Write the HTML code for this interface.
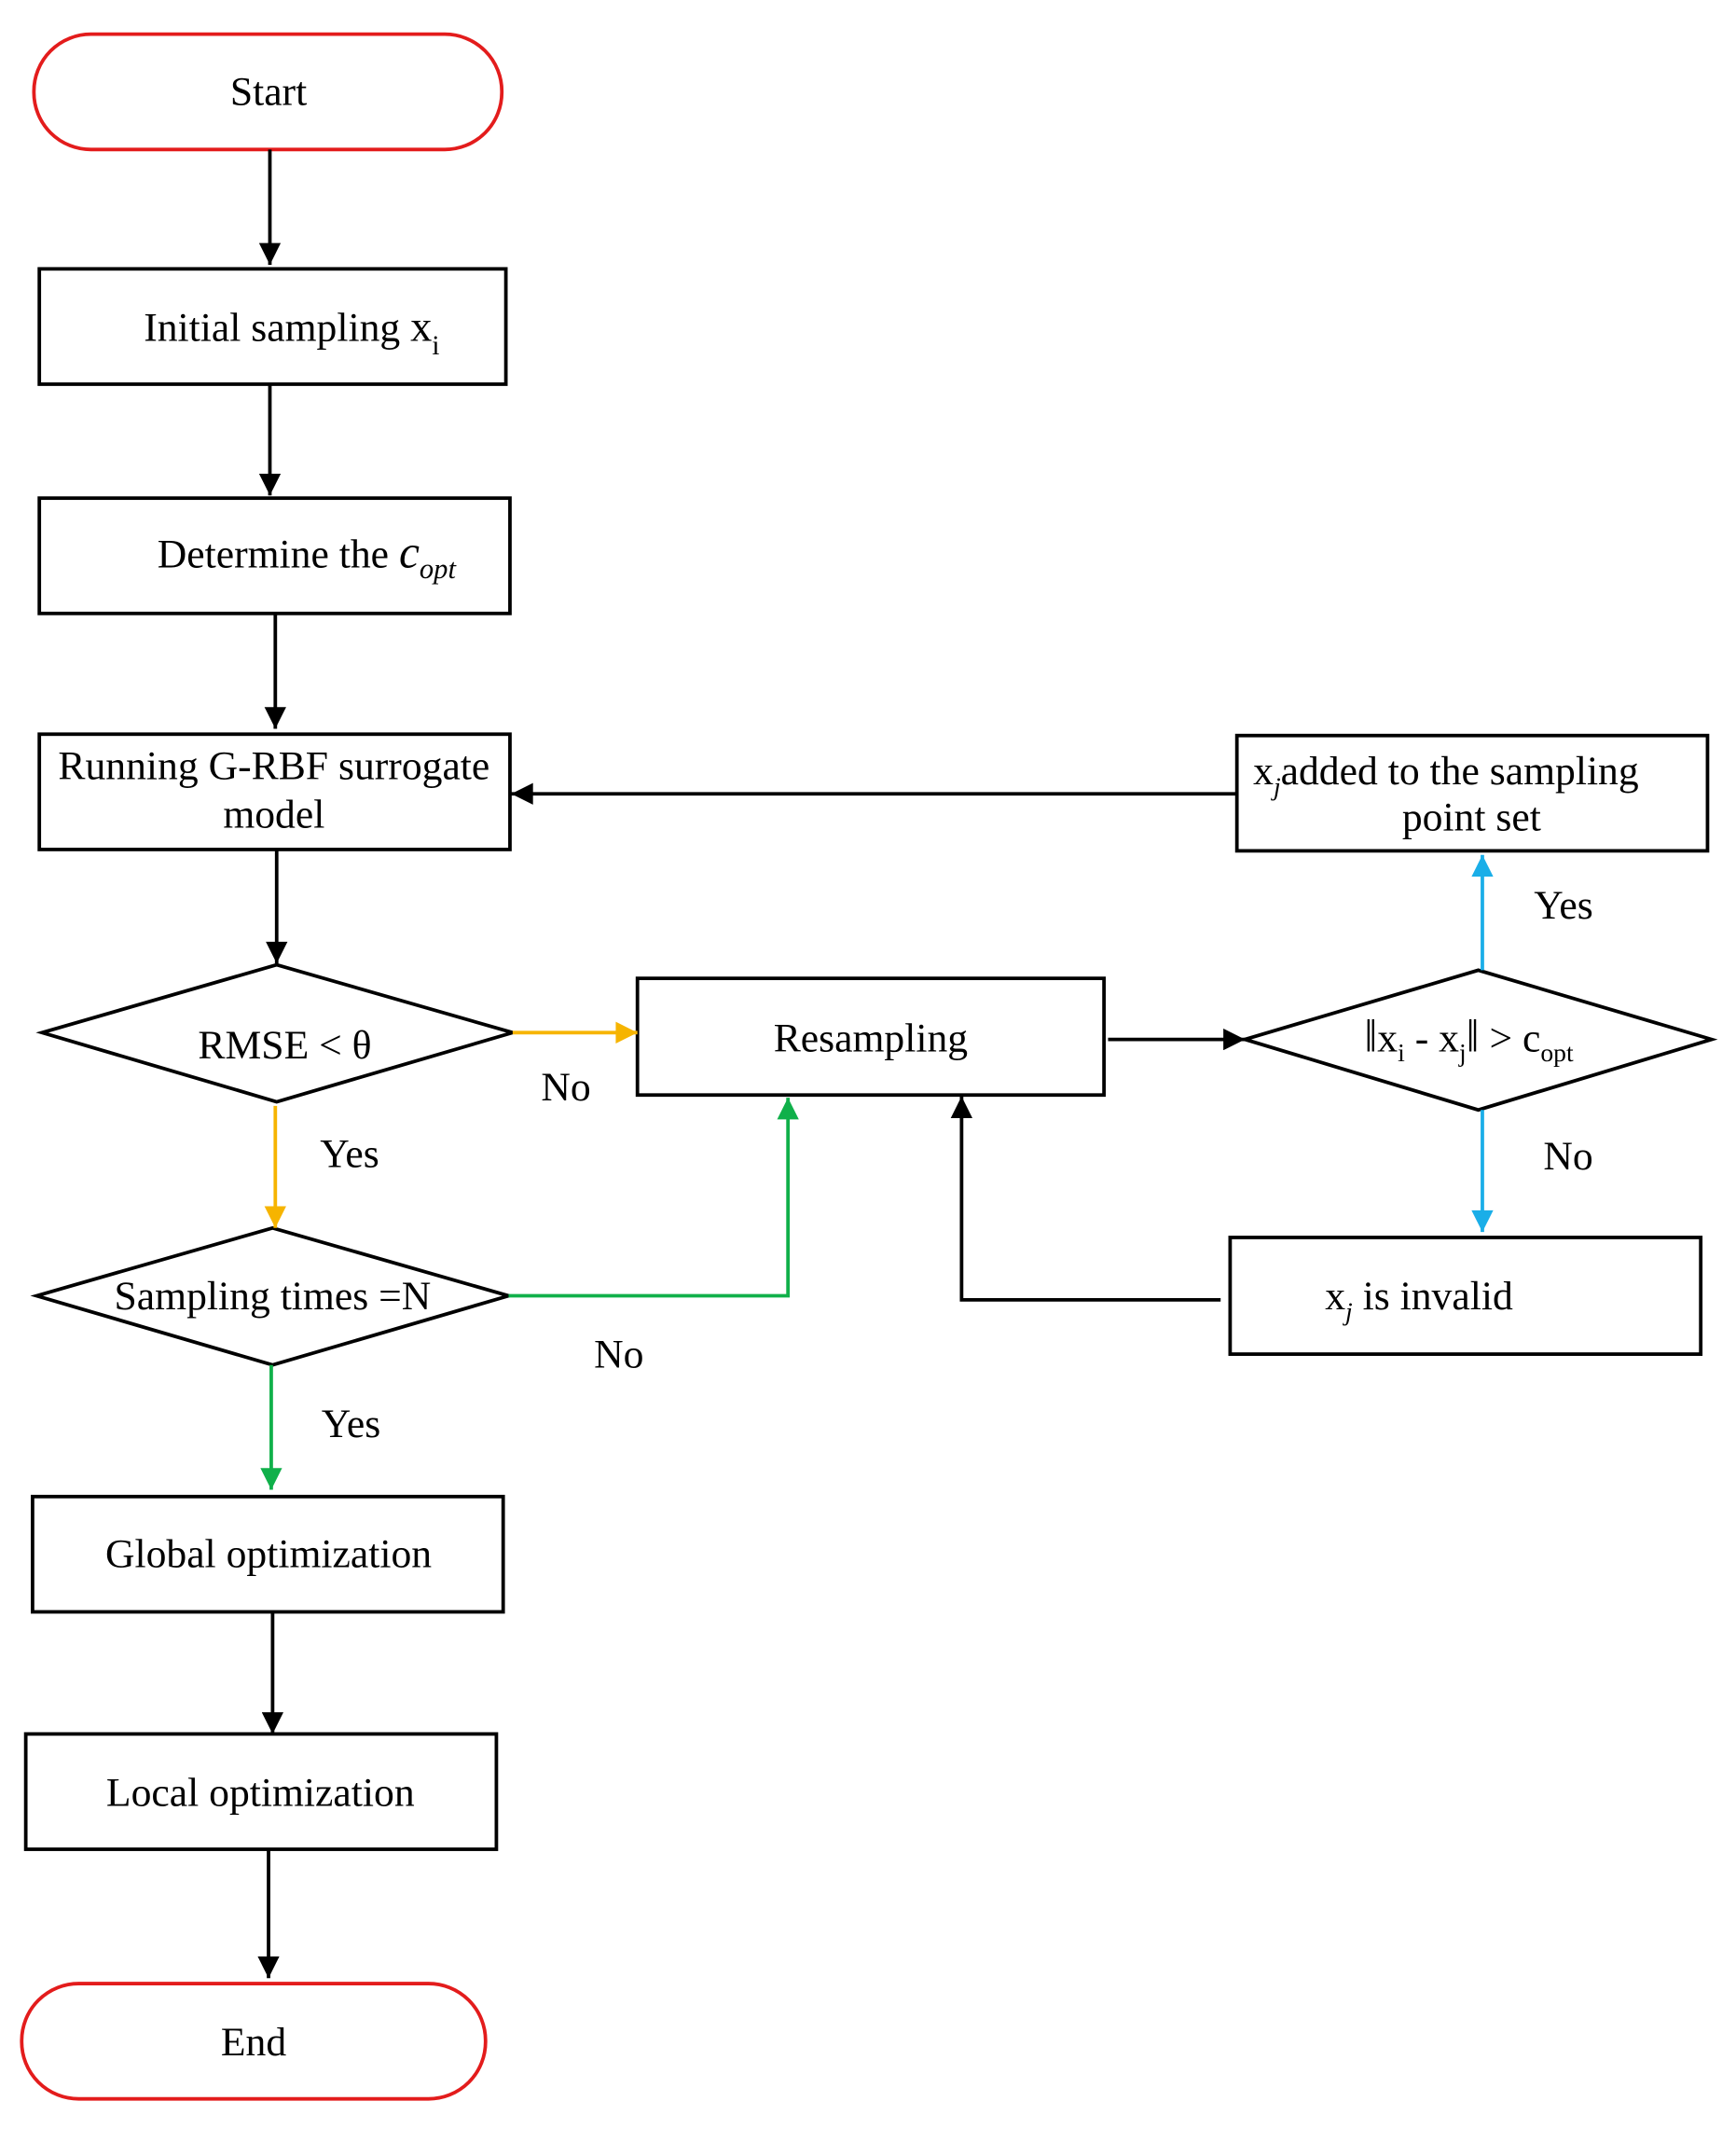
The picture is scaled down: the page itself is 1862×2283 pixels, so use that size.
<!DOCTYPE html>
<html><head><meta charset="utf-8"><style>
html,body{margin:0;padding:0;background:#fff;}
svg{display:block;}
text{font-family:"Liberation Serif",serif;font-size:30px;fill:#000;}
</style></head><body>
<svg width="1862" height="2283" viewBox="0 0 1280 1569" xmlns="http://www.w3.org/2000/svg">
<defs>
<marker id="a" viewBox="0 0 10 10" refX="10" refY="5" markerWidth="18" markerHeight="16" orient="auto" markerUnits="userSpaceOnUse"><path d="M0,0L10,5L0,10z" fill="#000"/></marker>
<marker id="ao" viewBox="0 0 10 10" refX="10" refY="5" markerWidth="18" markerHeight="16" orient="auto" markerUnits="userSpaceOnUse"><path d="M0,0L10,5L0,10z" fill="#f6b400"/></marker>
<marker id="ag" viewBox="0 0 10 10" refX="10" refY="5" markerWidth="18" markerHeight="16" orient="auto" markerUnits="userSpaceOnUse"><path d="M0,0L10,5L0,10z" fill="#10b04a"/></marker>
<marker id="ab" viewBox="0 0 10 10" refX="10" refY="5" markerWidth="18" markerHeight="16" orient="auto" markerUnits="userSpaceOnUse"><path d="M0,0L10,5L0,10z" fill="#1aaee8"/></marker>
</defs>
<g fill="none" stroke-width="2.6">
<rect x="25" y="25" width="345" height="85" rx="42" stroke="#e31c1c"/>
<rect x="16" y="1462" width="342" height="85" rx="42" stroke="#e31c1c"/>
<g stroke="#000">
<rect x="29" y="198" width="344" height="85"/>
<rect x="29" y="367" width="347" height="85"/>
<rect x="29" y="541" width="347" height="85"/>
<rect x="24" y="1103" width="347" height="85"/>
<rect x="19" y="1278" width="347" height="85"/>
<rect x="470" y="721" width="344" height="86"/>
<rect x="912" y="542" width="347" height="85"/>
<rect x="907" y="912" width="347" height="86"/>
<path d="M31,761 L204,711 L378,761 L204,812 Z"/>
<path d="M27,955 L201,905 L375,955 L201,1006 Z"/>
<path d="M918,766 L1090,715 L1262,766 L1090,818 Z"/>
<path d="M199,110 V195" marker-end="url(#a)"/>
<path d="M199,283 V365" marker-end="url(#a)"/>
<path d="M203,452 V537" marker-end="url(#a)"/>
<path d="M204,626 V710" marker-end="url(#a)"/>
<path d="M201,1188 V1278" marker-end="url(#a)"/>
<path d="M198,1363 V1458" marker-end="url(#a)"/>
<path d="M817,766 H918" marker-end="url(#a)"/>
<path d="M912,585 H377" marker-end="url(#a)"/>
<path d="M900,958 H709 V808" marker-end="url(#a)"/>
</g>
<path d="M378,761 H470" stroke="#f6b400" marker-end="url(#ao)"/>
<path d="M203,815 V905" stroke="#f6b400" marker-end="url(#ao)"/>
<path d="M375,955 H581 V809" stroke="#10b04a" marker-end="url(#ag)"/>
<path d="M200,1006 V1098" stroke="#10b04a" marker-end="url(#ag)"/>
<path d="M1093,715 V630" stroke="#1aaee8" marker-end="url(#ab)"/>
<path d="M1093,818 V908" stroke="#1aaee8" marker-end="url(#ab)"/>
</g>
<text x="198" y="77" text-anchor="middle">Start</text>
<text x="106" y="251">Initial sampling <tspan font-size="32">x</tspan><tspan font-size="20" dy="10">i</tspan></text>
<text x="116" y="418">Determine the <tspan font-style="italic" font-size="34">c</tspan><tspan font-style="italic" font-size="21" dy="8">opt</tspan></text>
<text x="202" y="574" text-anchor="middle">Running G-RBF surrogate</text>
<text x="202" y="610" text-anchor="middle">model</text>
<text x="210" y="780" text-anchor="middle">RMSE &lt; θ</text>
<text x="201" y="965" text-anchor="middle">Sampling times =N</text>
<text x="198" y="1155" text-anchor="middle">Global optimization</text>
<text x="192" y="1331" text-anchor="middle">Local optimization</text>
<text x="187" y="1515" text-anchor="middle">End</text>
<text x="642" y="775" text-anchor="middle">Resampling</text>
<text x="924" y="578">x<tspan font-size="19" font-style="italic" dy="8">j</tspan><tspan dy="-8">added to the sampling</tspan></text>
<text x="1085" y="612" text-anchor="middle">point set</text>
<text x="977" y="965">x<tspan font-size="19" font-style="italic" dy="8">j</tspan><tspan dy="-8">  is invalid</tspan></text>
<text x="1006" y="775"><tspan font-size="34">‖</tspan>x<tspan font-size="19" dy="7">i</tspan><tspan dy="-7"> - x</tspan><tspan font-size="19" dy="7">j</tspan><tspan dy="-7" font-size="34">‖</tspan> &gt; c<tspan font-size="19" dy="7">opt</tspan></text>
<text x="399" y="811">No</text>
<text x="236" y="860">Yes</text>
<text x="438" y="1008">No</text>
<text x="237" y="1059">Yes</text>
<text x="1131" y="677">Yes</text>
<text x="1138" y="862">No</text>
</svg>
</body></html>
